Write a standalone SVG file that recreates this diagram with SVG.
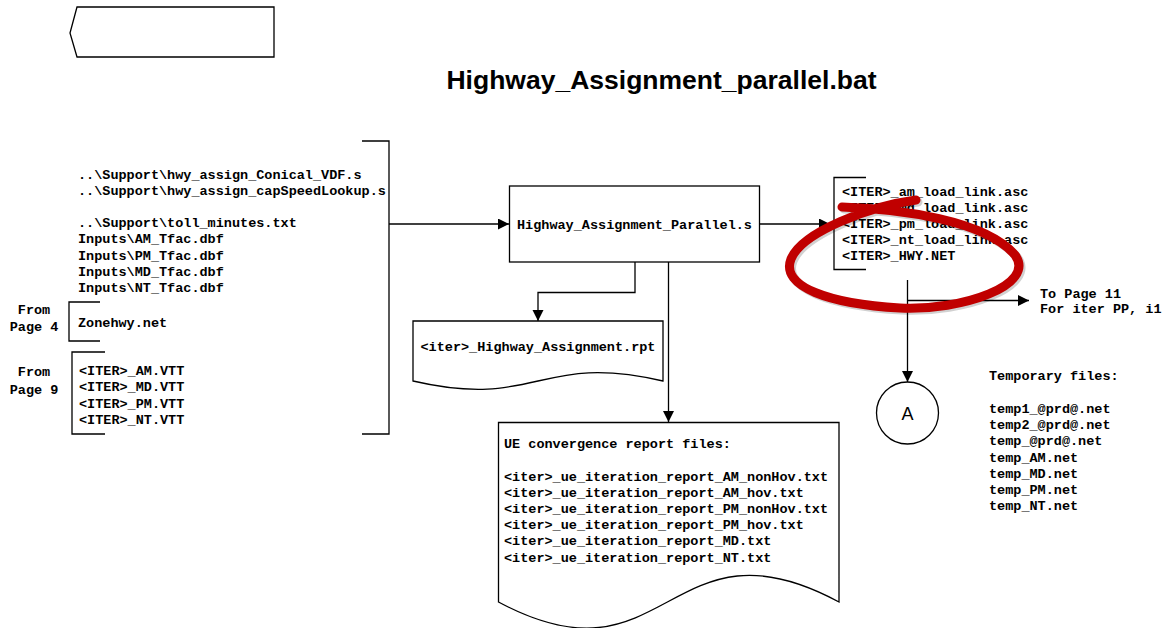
<svg xmlns="http://www.w3.org/2000/svg" width="1172" height="628" viewBox="0 0 1172 628">
<style>
.ln{fill:none;stroke:#000;stroke-width:1.3}
.shp{fill:#fff;stroke:#000;stroke-width:1.3}
.t{font-family:"Liberation Mono","Courier New",monospace;font-weight:bold;font-size:13.5px;fill:#000}
.title{font-family:"Liberation Sans",Arial,sans-serif;font-weight:bold;font-size:26.5px;fill:#000}
.big{font-family:"Liberation Sans",Arial,sans-serif;font-size:18px;fill:#000}
</style>
<defs>
<marker id="arr" markerUnits="userSpaceOnUse" markerWidth="12" markerHeight="12" refX="11" refY="5.5" orient="auto">
<path d="M0,0 L11,5.5 L0,11 Z" fill="#000"/>
</marker>
</defs>
<rect width="1172" height="628" fill="#fff"/>

<g id="offpage">
<path class="shp" d="M77,7 L274,7 L274,57 L77,57 L70,33 Z"/>
</g>

<g id="title">
<text class="title" x="661.5" y="89" text-anchor="middle">Highway_Assignment_parallel.bat</text>
</g>

<g id="inputs">
<path class="ln" d="M362,141 L389,141 L389,434 L362,434"/>
<text class="t" x="78" y="178.5">..\Support\hwy_assign_Conical_VDF.s</text>
<text class="t" x="78" y="194.7">..\Support\hwy_assign_capSpeedLookup.s</text>
<text class="t" x="78" y="227.1">..\Support\toll_minutes.txt</text>
<text class="t" x="78" y="243.3">Inputs\AM_Tfac.dbf</text>
<text class="t" x="78" y="259.5">Inputs\PM_Tfac.dbf</text>
<text class="t" x="78" y="275.7">Inputs\MD_Tfac.dbf</text>
<text class="t" x="78" y="291.9">Inputs\NT_Tfac.dbf</text>
</g>

<g id="zonehwy">
<path class="ln" d="M100,302 L69,302 L69,341 L100,341"/>
<text class="t" x="78" y="327">Zonehwy.net</text>
<text class="t" x="34" y="313.5" text-anchor="middle">From</text>
<text class="t" x="34" y="330.5" text-anchor="middle">Page 4</text>
</g>

<g id="vtt">
<path class="ln" d="M105,352 L72,352 L72,434 L105,434"/>
<text class="t" x="79" y="375">&lt;ITER&gt;_AM.VTT</text>
<text class="t" x="79" y="391.3">&lt;ITER&gt;_MD.VTT</text>
<text class="t" x="79" y="407.6">&lt;ITER&gt;_PM.VTT</text>
<text class="t" x="79" y="424">&lt;ITER&gt;_NT.VTT</text>
<text class="t" x="34" y="375.5" text-anchor="middle">From</text>
<text class="t" x="34" y="393.5" text-anchor="middle">Page 9</text>
</g>

<g id="mainbox">
<rect class="shp" x="509.5" y="186" width="250" height="76"/>
<text class="t" x="634.5" y="229" text-anchor="middle">Highway_Assignment_Parallel.s</text>
</g>

<g id="rpt">
<path class="shp" d="M413,321 L663,321 L663,381 C538,352 538,410 413,381 Z"/>
<text class="t" x="538" y="351" text-anchor="middle">&lt;iter&gt;_Highway_Assignment.rpt</text>
</g>

<g id="ue">
<path class="shp" d="M498.5,422.5 L839,422.5 L839,602 C668,510 668,693 498.5,602 Z"/>
<text class="t" x="504" y="448">UE convergence report files:</text>
<text class="t" x="504" y="480.5">&lt;iter&gt;_ue_iteration_report_AM_nonHov.txt</text>
<text class="t" x="504" y="496.7">&lt;iter&gt;_ue_iteration_report_AM_hov.txt</text>
<text class="t" x="504" y="512.9">&lt;iter&gt;_ue_iteration_report_PM_nonHov.txt</text>
<text class="t" x="504" y="529.1">&lt;iter&gt;_ue_iteration_report_PM_hov.txt</text>
<text class="t" x="504" y="545.3">&lt;iter&gt;_ue_iteration_report_MD.txt</text>
<text class="t" x="504" y="561.5">&lt;iter&gt;_ue_iteration_report_NT.txt</text>
</g>

<g id="outputs">
<path class="ln" d="M866,177.5 L834,177.5 L834,269.5 L866,269.5"/>
<text class="t" x="842" y="195.5">&lt;ITER&gt;_am_load_link.asc</text>
<text class="t" x="842" y="211.7">&lt;ITER&gt;_md_load_link.asc</text>
<text class="t" x="842" y="227.9">&lt;ITER&gt;_pm_load_link.asc</text>
<text class="t" x="842" y="244.1">&lt;ITER&gt;_nt_load_link.asc</text>
<text class="t" x="842" y="260.3">&lt;ITER&gt;_HWY.NET</text>
</g>

<g id="topage11">
<text class="t" x="1040" y="297.8">To Page 11</text>
<text class="t" x="1040" y="313">For iter PP, i1</text>
</g>

<g id="connA">
<circle class="shp" cx="907.5" cy="413" r="31"/>
<text class="big" x="907.5" y="419.5" text-anchor="middle">A</text>
</g>

<g id="temp">
<text class="t" x="989" y="379.5">Temporary files:</text>
<text class="t" x="989" y="413">temp1_@prd@.net</text>
<text class="t" x="989" y="429.2">temp2_@prd@.net</text>
<text class="t" x="989" y="445.4">temp_@prd@.net</text>
<text class="t" x="989" y="461.6">temp_AM.net</text>
<text class="t" x="989" y="477.8">temp_MD.net</text>
<text class="t" x="989" y="494">temp_PM.net</text>
<text class="t" x="989" y="510.2">temp_NT.net</text>
</g>

<g id="connectors">
<path class="ln" d="M389,224 L509,224" marker-end="url(#arr)"/>
<path class="ln" d="M759.5,224 L830,224" marker-end="url(#arr)"/>
<path class="ln" d="M635,262 L635,292.5 L538,292.5 L538,321" marker-end="url(#arr)"/>
<path class="ln" d="M668.5,262 L668.5,422" marker-end="url(#arr)"/>
<path class="ln" d="M907.5,280 L907.5,382" marker-end="url(#arr)"/>
<path class="ln" d="M907.5,300.5 L1029,300.5" marker-end="url(#arr)"/>
</g>

<g id="annotation">
<path d="M842,207 C900,209 985,220 1015,255 C1037,285 962,311 900,308 C830,304 780,287 791,259 C802,232 870,206 916,200" fill="none" stroke="#000" stroke-opacity="0.18" stroke-width="9" stroke-linecap="round" transform="translate(2,2)"/>
<path d="M842,207 C900,209 985,220 1015,255 C1037,285 962,311 900,308 C830,304 780,287 791,259 C802,232 870,206 916,200" fill="none" stroke="#c00000" stroke-width="9" stroke-linecap="round"/>
</g>
</svg>
